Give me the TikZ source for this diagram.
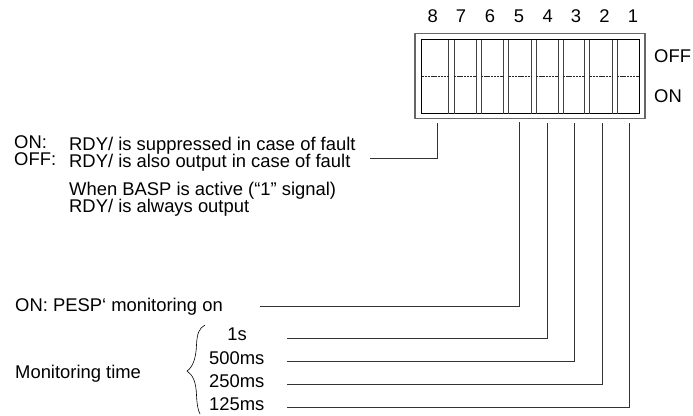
\documentclass[tikz,border=0pt]{standalone}
\usepackage{fontspec}
\setmainfont{Liberation Sans}
\usepackage{tikz}
\usetikzlibrary{positioning}

\begin{document}
\begin{tikzpicture}[
  x=1pt, y=-1pt,
  label/.style={inner sep=0pt, anchor=base west, font=\fontsize{18.4}{18.4}\selectfont},
  number/.style={inner sep=0pt, anchor=base, font=\fontsize{18.4}{18.4}\selectfont},
  housing/.style={draw=black!60, line width=1.4pt},
  window/.style={draw, line width=0.9pt},
  divider/.style={line width=0.9pt, black!75},
  midline/.style={line width=0.6pt, black!85, dash pattern=on 2.4pt off 0.8pt},
  lead/.style={line width=0.9pt, black!80}
]
  \useasboundingbox (0,0) rectangle (693,415);

  % --- switch body --------------------------------------------------
  \node[housing, minimum width=230pt, minimum height=85pt, inner sep=0pt] (body) at (530,76) {};
  \node[window, minimum width=217.5pt, minimum height=74pt, inner sep=0pt] (window) at (530.25,76.5) {};
  \foreach \xa/\xb in {448.5/454, 476/481, 503.5/508.5, 531/536, 558/563, 584.5/589.5, 612/617} {
    \draw[divider] (\xa,39.5) -- (\xa,113.5);
    \draw[divider] (\xb,39.5) -- (\xb,113.5);
  }
  \foreach \xa/\xb in {421.5/448.5, 454/476, 481/503.5, 508.5/531, 536/558, 563/584.5, 589.5/612, 617/639}
    \draw[midline] (\xa,76) -- (\xb,76);

  % --- switch numbers -----------------------------------------------
  \foreach \num/\xn in {8/432.7, 7/461, 6/490, 5/519, 4/547.7, 3/576, 2/604.5, 1/633}
    \node[number] (n\num) at (\xn,23) {\num};
  \node[label] (off) at (654,62.3) {OFF};
  \node[label] (on) at (654,102.3) {ON};

  % --- left column texts --------------------------------------------
  \node[label] (onlabel) at (14,148.3) {ON:};
  \node[label] (offlabel) at (14,165.7) {OFF:};
  \node[label] (suppressed) at (69,150) {RDY/ is suppressed in case of fault};
  \node[label] (also) at (69,167.7) {RDY/ is also output in case of fault};
  \node[label] (basp) at (69,195) {When BASP is active (“1” signal)};
  \node[label] (always) at (69,212.5) {RDY/ is always output};
  \node[label] (pesp) at (15,311) {ON: PESP‘ monitoring on};
  \node[label] (montime) at (15,378.3) {Monitoring time};
  \node[number] (t1) at (237,340) {1s};
  \node[label] (t500) at (209,364.3) {500ms};
  \node[label] (t250) at (209,387.3) {250ms};
  \node[label] (t125) at (209,410) {125ms};

  % --- brace --------------------------------------------------------
  \coordinate (bracetop) at (205,325);
  \coordinate (bracetip) at (187,371);
  \coordinate (bracebot) at (200,414);
  \draw[line width=0.6pt] (bracetop) .. controls (199,328) and (197,334) .. (196.5,345)
    .. controls (196,358) and (193,367) .. (bracetip)
    .. controls (193,375) and (196,382) .. (196.5,395)
    .. controls (197,405) and (198,410) .. (bracebot);

  % --- leads --------------------------------------------------------
  \coordinate (p8) at (437.5,123);
  \coordinate (p5) at (519.5,122);
  \coordinate (p4) at (547,123);
  \coordinate (p3) at (574.5,123);
  \coordinate (p2) at (602,123);
  \coordinate (p1) at (629.5,123);
  \coordinate (e8) at (370,158.5);
  \coordinate (e5) at (260,306);
  \coordinate (e4) at (287,338);
  \coordinate (e3) at (287,361);
  \coordinate (e2) at (287,384);
  \coordinate (e1) at (287,407);
  \foreach \pin in {8,5,4,3,2,1}
    \draw[lead] (p\pin) |- (e\pin);
\end{tikzpicture}
\end{document}
